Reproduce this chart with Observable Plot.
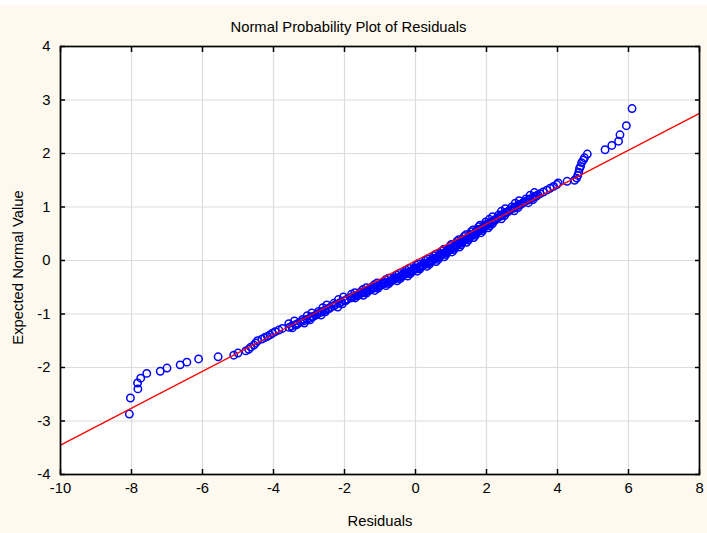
<!DOCTYPE html>
<html><head><meta charset="utf-8">
<script src="https://cdn.jsdelivr.net/npm/d3@7"></script>
<script src="https://cdn.jsdelivr.net/npm/@observablehq/plot@0.6"></script>
<style>
html,body{margin:0;padding:0;background:#fff;}
#chart{padding-top:5px;}
svg{display:block;}
</style></head><body><div id="chart"></div>
<script>
// Residuals (x) and their expected normal values (y)
const residuals = [
  -8.06,-8.03,-7.82,-7.83,-7.74,-7.57,-7.19,-7.00,-6.63,-6.44,-6.11,-5.56,-5.12,-5.00,
  -4.78,-4.70,-4.64,-4.55,-4.50,-4.45,-4.33,-4.25,-4.17,-4.10,-4.03,-3.95,-3.85,-3.75,
  -3.56,-3.49,-3.38,-3.31,-3.24,-3.13,-3.06,-2.97,-2.92,-2.82,-2.77,-2.68,-2.63,-2.53,-2.47,-2.40,-2.30,-2.25,-2.15,-2.09,-2.00,-1.93,-1.82,
  -1.79,-1.72,-1.68,-1.61,-1.58,-1.50,-1.47,-1.40,-1.37,-1.29,-1.26,-1.19,-1.15,-1.08,-1.05,-0.98,-0.94,-0.87,-0.84,-0.76,-0.73,-0.66,-0.63,-0.55,-0.52,-0.45,-0.43,-0.36,-0.33,-0.27,-0.24,-0.18,-0.15,-0.08,-0.06,0.01,0.03,0.10,0.12,0.18,0.21,0.27,0.30,0.36,0.38,0.45,0.47,0.53,0.55,0.60,0.62,0.68,0.70,0.75,0.77,0.83,0.84,0.90,0.92,0.98,0.99,1.05,1.06,1.11,1.13,1.18,1.19,1.25,1.26,1.32,1.33,1.38,1.40,1.45,1.47,1.52,1.53,1.59,1.60,1.65,1.67,1.72,1.74,1.79,1.80,1.86,1.87,1.92,1.94,1.99,2.01,2.06,
  2.08,2.16,2.20,2.27,2.31,2.39,2.42,2.50,2.54,2.63,2.67,2.76,2.80,2.89,2.93,3.02,3.07,3.16,3.22,3.31,3.36,3.45,3.51,
  3.60,3.70,3.79,3.89,3.98,4.02,4.27,4.48,4.54,4.57,4.60,4.62,4.65,4.68,4.73,4.76,4.84,5.34,5.53,5.72,5.76,5.94,6.10,
  // the rest of the dense band
  -1.70,-1.80,-1.64,-1.71,-1.47,-1.55,-1.38,-1.48,-1.33,-1.39,-1.15,-1.24,-1.06,-1.16,-1.01,-1.08,-0.83,-0.92,-0.75,-0.84,-0.69,-0.76,-0.52,-0.60,-0.43,-0.53,-0.39,-0.46,-0.22,-0.32,-0.15,-0.26,-0.11,-0.18,0.05,-0.04,0.12,0.02,0.16,0.08,0.32,0.22,0.39,0.28,0.42,0.35,0.58,0.48,0.64,0.52,0.66,0.58,0.81,0.70,0.86,0.75,0.88,0.80,1.03,0.93,1.08,0.97,1.10,1.01,1.24,1.13,1.28,1.17,1.30,1.22,1.44,1.33,1.49,1.37,1.51,1.42,1.64,1.54,1.69,1.57,1.71,1.62,1.85,1.74,1.89,1.78,1.91,1.82,2.05,1.94,2.10,1.98,
  -3.47,-3.57,-3.34,-3.41,-3.13,-3.18,-2.97,-3.05,-2.88,-2.92,-2.66,-2.73,-2.54,-2.61,-2.43,-2.50,-2.19,-2.30,-2.06,-2.17,-1.96,-2.03,
  2.17,2.08,2.24,2.17,2.42,2.34,2.51,2.42,2.58,2.53,2.78,2.71,2.89,2.81,2.97,2.92,3.18,3.11,3.31,3.23,3.40,3.35
];
const expectedNormal = [
  -2.87,-2.57,-2.40,-2.29,-2.20,-2.11,-2.07,-2.01,-1.95,-1.90,-1.84,-1.80,-1.77,-1.73,
  -1.69,-1.66,-1.62,-1.58,-1.54,-1.50,-1.47,-1.44,-1.42,-1.39,-1.36,-1.33,-1.30,-1.27,
  -1.25,-1.225,-1.20,-1.175,-1.15,-1.125,-1.10,-1.075,-1.05,-1.025,-1.00,-0.975,-0.95,-0.925,-0.90,-0.875,-0.85,-0.825,-0.80,-0.775,-0.75,-0.725,-0.70,
  -0.685,-0.67,-0.655,-0.64,-0.625,-0.61,-0.595,-0.58,-0.565,-0.55,-0.535,-0.52,-0.505,-0.49,-0.475,-0.46,-0.445,-0.43,-0.415,-0.40,-0.385,-0.37,-0.355,-0.34,-0.325,-0.31,-0.295,-0.28,-0.265,-0.25,-0.235,-0.22,-0.205,-0.19,-0.175,-0.16,-0.145,-0.13,-0.115,-0.10,-0.085,-0.07,-0.055,-0.04,-0.025,-0.01,0.005,0.02,0.035,0.05,0.065,0.08,0.095,0.11,0.125,0.14,0.155,0.17,0.185,0.20,0.215,0.23,0.245,0.26,0.275,0.29,0.305,0.32,0.335,0.35,0.365,0.38,0.395,0.41,0.425,0.44,0.455,0.47,0.485,0.50,0.515,0.53,0.545,0.56,0.575,0.59,0.605,0.62,0.635,0.65,0.665,0.68,
  0.70,0.725,0.75,0.775,0.80,0.825,0.85,0.875,0.90,0.925,0.95,0.975,1.00,1.025,1.05,1.075,1.10,1.125,1.15,1.175,1.20,1.225,1.25,
  1.28,1.315,1.35,1.385,1.42,1.45,1.48,1.50,1.54,1.59,1.65,1.72,1.76,1.83,1.88,1.92,1.99,2.07,2.15,2.23,2.35,2.52,2.84,
  // the rest of the dense band
  -0.70,-0.63,-0.66,-0.60,-0.65,-0.59,-0.61,-0.54,-0.57,-0.51,-0.56,-0.50,-0.52,-0.45,-0.48,-0.42,-0.47,-0.41,-0.43,-0.36,-0.39,-0.33,-0.38,-0.32,-0.34,-0.27,-0.30,-0.24,-0.29,-0.23,-0.25,-0.18,-0.21,-0.15,-0.20,-0.14,-0.16,-0.09,-0.12,-0.06,-0.11,-0.05,-0.07,0.00,-0.03,0.03,-0.02,0.04,0.02,0.09,0.06,0.12,0.07,0.13,0.11,0.18,0.15,0.21,0.16,0.22,0.20,0.27,0.24,0.30,0.25,0.31,0.29,0.36,0.33,0.39,0.34,0.40,0.38,0.45,0.42,0.48,0.43,0.49,0.47,0.54,0.51,0.57,0.52,0.58,0.56,0.63,0.60,0.66,0.61,0.67,0.65,0.72,
  -1.26,-1.18,-1.20,-1.13,-1.17,-1.10,-1.11,-1.03,-1.05,-0.98,-1.02,-0.95,-0.96,-0.88,-0.90,-0.83,-0.87,-0.80,-0.81,-0.73,-0.75,-0.68,
  0.69,0.77,0.75,0.82,0.78,0.85,0.84,0.92,0.90,0.97,0.93,1.00,0.99,1.07,1.05,1.12,1.08,1.15,1.14,1.22,1.20,1.27
];
// Fitted reference line end points
const fitResidual = [-10, 8];
const fitExpected = [-3.45, 2.75];
// Axis ticks
const xTicks = [-10, -8, -6, -4, -2, 0, 2, 4, 6, 8];
const yTicks = [-4, -3, -2, -1, 0, 1, 2, 3, 4];
const titleText = "Normal Probability Plot of Residuals";
const xLabel = "Residuals";
const yLabel = "Expected Normal Value";

const points = residuals.map((r, i) => ({residual: r, expected: expectedNormal[i]}));
const fit = fitResidual.map((r, i) => ({residual: r, expected: fitExpected[i]}));

const font = "'Liberation Sans', Arial, sans-serif";
const fs = 14.8;
const fmt = d => String(d);
const chart = Plot.plot({
  width: 707,
  height: 528,
  marginLeft: 60,
  marginRight: 8,
  marginTop: 41,
  marginBottom: 59,
  style: {background: "#fdf9ee", fontFamily: font, fontSize: fs + "px", color: "#000"},
  x: {domain: [-10, 8], label: null},
  y: {domain: [-4, 4], label: null},
  marks: [
    Plot.frame({fill: "#ffffff", stroke: "none"}),
    Plot.gridX(xTicks, {stroke: "#dcdcdc", strokeOpacity: 1, strokeWidth: 1.2}),
    Plot.gridY(yTicks, {stroke: "#dcdcdc", strokeOpacity: 1, strokeWidth: 1.2}),
    Plot.dot(points, {x: "residual", y: "expected", r: 3.7, stroke: "#0000ff", strokeWidth: 1.5, fill: "none"}),
    Plot.line(fit, {x: "residual", y: "expected", stroke: "#ff0000", strokeWidth: 1.3}),
    Plot.frame({stroke: "#000", strokeWidth: 1.7}),
    Plot.axisX(xTicks, {anchor: "bottom", tickSize: -5, tickPadding: 13, tickFormat: fmt, fontSize: fs, stroke: "#000", strokeWidth: 1.5}),
    Plot.axisX(xTicks, {anchor: "top", tickSize: -5, tickFormat: () => "", stroke: "#000", strokeWidth: 1.5}),
    Plot.axisY(yTicks, {anchor: "left", tickSize: -5, tickPadding: 15, tickFormat: fmt, fontSize: fs, stroke: "#000", strokeWidth: 1.5}),
    Plot.axisY(yTicks, {anchor: "right", tickSize: -5, tickFormat: () => "", stroke: "#000", strokeWidth: 1.5}),
    Plot.text([titleText], {frameAnchor: "top-left", dx: 288, dy: -19, textAnchor: "middle", lineAnchor: "middle", fontSize: fs, fill: "#000"}),
    Plot.text([xLabel], {frameAnchor: "bottom", dy: 47, textAnchor: "middle", lineAnchor: "middle", fontSize: fs, fill: "#000"}),
    Plot.text([yLabel], {frameAnchor: "left", dx: -42, dy: 7, rotate: -90, textAnchor: "middle", lineAnchor: "middle", fontSize: fs, fill: "#000"})
  ]
});
document.getElementById("chart").appendChild(chart);
</script>
</body></html>
